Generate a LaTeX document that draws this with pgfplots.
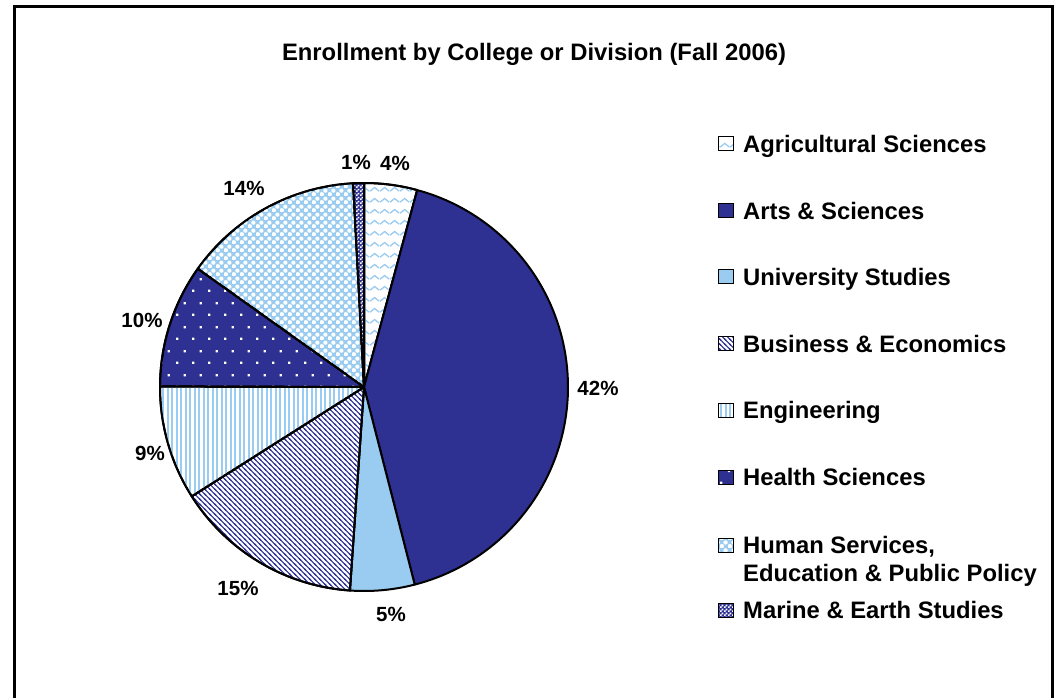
\documentclass[border=0pt]{standalone}
\usepackage{fontspec}
\setmainfont{Liberation Sans}
\usepackage{pgfplots}
\pgfplotsset{compat=1.18}
\usepackage{pgfplotstable}
\usetikzlibrary{patterns}

\definecolor{navy}{RGB}{46,49,146}
\definecolor{lblue}{RGB}{153,204,240}

\pgfdeclarepatternformonly{waves}{\pgfqpoint{0pt}{0pt}}{\pgfqpoint{10pt}{11pt}}{\pgfqpoint{10pt}{11pt}}{%
  \pgfsetlinewidth{1.4pt}%
  \pgfpathmoveto{\pgfqpoint{0pt}{3pt}}%
  \pgfpathcurveto{\pgfqpoint{2.5pt}{3pt}}{\pgfqpoint{2.5pt}{7pt}}{\pgfqpoint{5pt}{7pt}}%
  \pgfpathcurveto{\pgfqpoint{7.5pt}{7pt}}{\pgfqpoint{7.5pt}{3pt}}{\pgfqpoint{10pt}{3pt}}%
  \pgfusepath{stroke}}
\pgfdeclarepatternformonly{nwl}{\pgfqpoint{-1pt}{-1pt}}{\pgfqpoint{6pt}{6pt}}{\pgfqpoint{5pt}{5pt}}{%
  \pgfsetlinewidth{1.1pt}%
  \pgfpathmoveto{\pgfqpoint{0pt}{5pt}}\pgfpathlineto{\pgfqpoint{5pt}{0pt}}%
  \pgfpathmoveto{\pgfqpoint{-1pt}{1pt}}\pgfpathlineto{\pgfqpoint{1pt}{-1pt}}%
  \pgfpathmoveto{\pgfqpoint{4pt}{6pt}}\pgfpathlineto{\pgfqpoint{6pt}{4pt}}%
  \pgfusepath{stroke}}
\pgfdeclarepatternformonly{vstripes}{\pgfqpoint{0pt}{-1pt}}{\pgfqpoint{4.5pt}{5pt}}{\pgfqpoint{4.5pt}{4pt}}{%
  \pgfpathrectangle{\pgfqpoint{0pt}{-1pt}}{\pgfqpoint{2.4pt}{6pt}}%
  \pgfusepath{fill}}
\pgfdeclarepatternformonly{wdots}{\pgfqpoint{0pt}{0pt}}{\pgfqpoint{16pt}{24pt}}{\pgfqpoint{16pt}{24pt}}{%
  \pgfpathrectangle{\pgfqpoint{0pt}{0pt}}{\pgfqpoint{2.4pt}{2.4pt}}%
  \pgfpathrectangle{\pgfqpoint{8pt}{12pt}}{\pgfqpoint{2.4pt}{2.4pt}}%
  \pgfusepath{fill}}
\pgfdeclarepatternformonly{wcircles}{\pgfqpoint{0pt}{0pt}}{\pgfqpoint{8pt}{8pt}}{\pgfqpoint{8pt}{8pt}}{%
  \pgfpathcircle{\pgfqpoint{2pt}{2pt}}{2.4pt}%
  \pgfpathcircle{\pgfqpoint{6pt}{6pt}}{2.4pt}%
  \pgfusepath{fill}}
\pgfdeclarepatternformonly{checks}{\pgfqpoint{0pt}{0pt}}{\pgfqpoint{4pt}{4pt}}{\pgfqpoint{4pt}{4pt}}{%
  \pgfpathrectangle{\pgfqpoint{0pt}{0pt}}{\pgfqpoint{2pt}{2pt}}%
  \pgfpathrectangle{\pgfqpoint{2pt}{2pt}}{\pgfqpoint{2pt}{2pt}}%
  \pgfusepath{fill}}

\tikzset{
  s0/.style={preaction={fill=white}, pattern=waves, pattern color=lblue},
  s1/.style={fill=navy},
  s2/.style={fill=lblue},
  s3/.style={preaction={fill=white}, pattern=nwl, pattern color=navy},
  s4/.style={preaction={fill=white}, pattern=vstripes, pattern color=lblue},
  s5/.style={preaction={fill=navy}, pattern=wdots, pattern color=white},
  s6/.style={preaction={fill=lblue}, pattern=wcircles, pattern color=white},
  s7/.style={preaction={fill=navy}, pattern=checks, pattern color=white},
  lab/.style={font=\bfseries\fontsize{20.5}{24}\selectfont, anchor=base, inner sep=0pt},
  leg/.style={font=\bfseries\fontsize{23.8}{28}\selectfont, anchor=base west, inner sep=0pt},
}

% share of enrollment (percent), clockwise from 12 o'clock
\pgfplotstableread{
idx value
0 4.2
1 41.8
2 5.1
3 14.9
4 9.05
5 9.8
6 14.3
7 0.85
}\pietable

\begin{document}%
\begin{tikzpicture}
\def\cumsum{0}
\pgfplotsforeachungrouped \i in {0,...,7}{%
  \pgfplotstablegetelem{\i}{value}\of\pietable
  \pgfmathsetmacro\newsum{\cumsum+\pgfplotsretval}%
  \pgfmathsetmacro\aa{90-3.6*\cumsum}%
  \pgfmathsetmacro\bb{90-3.6*\newsum}%
  \expandafter\xdef\csname pa\i\endcsname{\aa}%
  \expandafter\xdef\csname pb\i\endcsname{\bb}%
  \xdef\cumsum{\newsum}%
}
\begin{axis}[x=1pt, y=1pt, xmin=0, xmax=1056, ymin=0, ymax=698,
  scale only axis, hide axis, clip=false, anchor=origin, at={(0,0)}]
\path (axis cs:0,0) rectangle (axis cs:1056,698);
\pgfplotsinvokeforeach{0,...,7}{%
  \edef\tmp{\noexpand\addplot[s#1, draw=black, line width=2pt, line join=round,
     domain=\csname pb#1\endcsname:\csname pa#1\endcsname, samples=90]
     ({364+204*cos(x)},{311+204*sin(x)}) -- (axis cs:364,311) -- cycle;}%
  \tmp
}
% frame
\draw[line width=2.6pt] (axis cs:14.5,0) -- (axis cs:14.5,691.5) -- (axis cs:1052.5,691.5) -- (axis cs:1052.5,0);
% title
\node[leg, anchor=base] at (axis cs:534,637.5) {Enrollment by College or Division (Fall 2006)};
% slice labels
\node[lab] at (axis cs:395,527.8) {4\%};
\node[lab] at (axis cs:356,528.8) {1\%};
\node[lab] at (axis cs:598,302.8) {42\%};
\node[lab] at (axis cs:391,76.8) {5\%};
\node[lab] at (axis cs:238,102.8) {15\%};
\node[lab] at (axis cs:150,237.8) {9\%};
\node[lab] at (axis cs:142,370.8) {10\%};
\node[lab] at (axis cs:244,502.8) {14\%};
% legend
\draw[s0, draw=black, line width=1pt] (axis cs:718,561) rectangle (axis cs:733,547);
\node[leg] at (axis cs:743,545.5) {Agricultural Sciences};
\draw[s1, draw=black, line width=1pt] (axis cs:718,494) rectangle (axis cs:733,480);
\node[leg] at (axis cs:743,478.5) {Arts \& Sciences};
\draw[s2, draw=black, line width=1pt] (axis cs:718,428) rectangle (axis cs:733,414);
\node[leg] at (axis cs:743,412.5) {University Studies};
\draw[s3, draw=black, line width=1pt] (axis cs:718,361) rectangle (axis cs:733,347);
\node[leg] at (axis cs:743,345.5) {Business \& Economics};
\draw[s4, draw=black, line width=1pt] (axis cs:718,295) rectangle (axis cs:733,281);
\node[leg] at (axis cs:743,279.5) {Engineering};
\draw[s5, draw=black, line width=1pt] (axis cs:718,228) rectangle (axis cs:733,214);
\node[leg] at (axis cs:743,212.5) {Health Sciences};
\draw[s6, draw=black, line width=1pt] (axis cs:718,160) rectangle (axis cs:733,146);
\node[leg] at (axis cs:743,144.5) {Human Services,};
\node[leg] at (axis cs:743,116.5) {Education \& Public Policy};
\draw[s7, draw=black, line width=1pt] (axis cs:718,95) rectangle (axis cs:733,81);
\node[leg] at (axis cs:743,79.5) {Marine \& Earth Studies};
\end{axis}
\end{tikzpicture}%
\end{document}
